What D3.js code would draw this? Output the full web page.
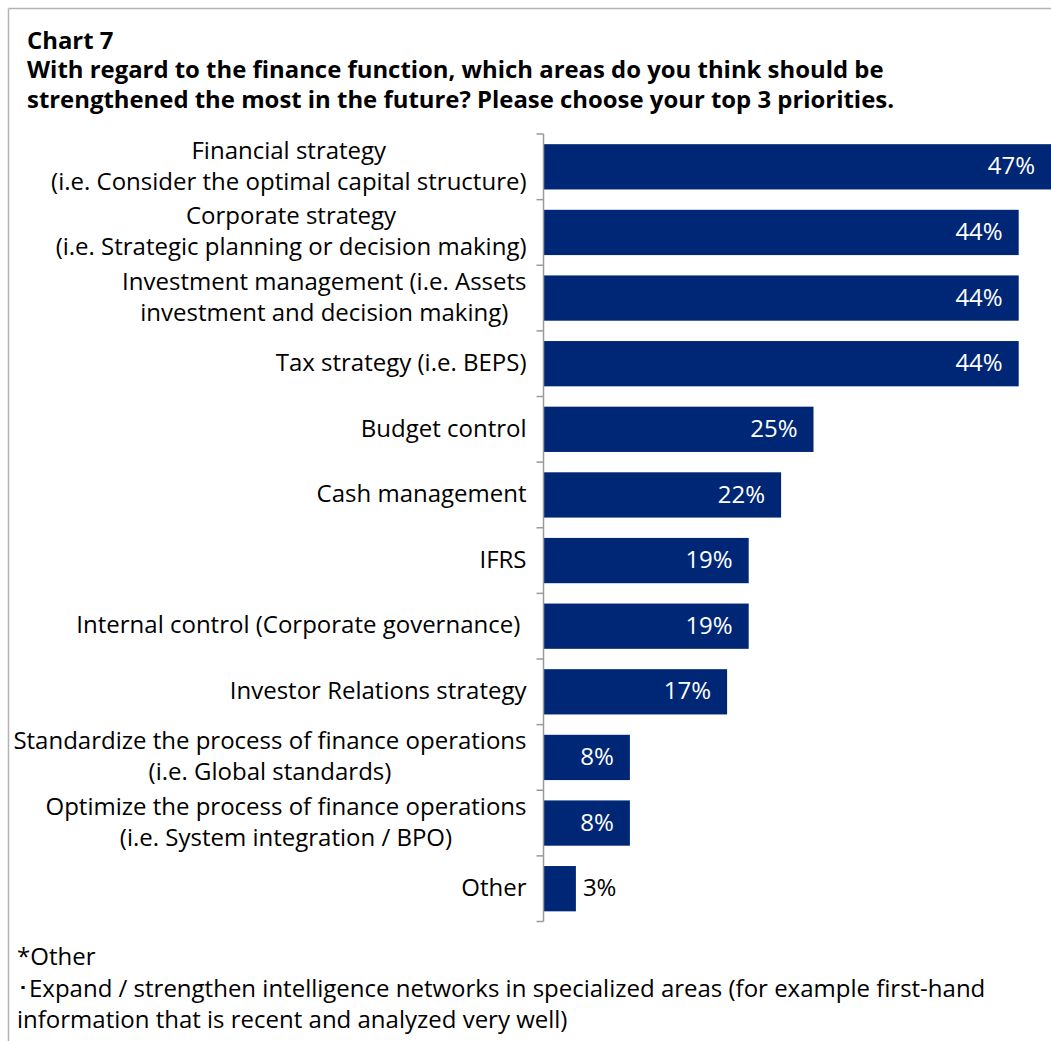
<!DOCTYPE html>
<html>
<head>
<meta charset="utf-8">
<script src="https://cdn.jsdelivr.net/npm/d3@7"></script>
<style>
  html, body { margin: 0; padding: 0; background: #fff; }
  svg { display: block; font-family: "Open Sans", "Noto Sans", sans-serif; }
  text, tspan { white-space: pre; }
</style>
</head>
<body>
<svg id="chart" width="1051" height="1041"></svg>
<script>
// Survey categories (each entry holds the label lines as they wrap)
const categories = [
  ["Financial strategy", "(i.e. Consider the optimal capital structure)"],
  ["Corporate strategy", "(i.e. Strategic planning or decision making)"],
  ["Investment management (i.e. Assets", "investment and decision making)"],
  ["Tax strategy (i.e. BEPS)"],
  ["Budget control"],
  ["Cash management"],
  ["IFRS"],
  ["Internal control (Corporate governance) "],
  ["Investor Relations strategy"],
  ["Standardize the process of finance operations", "(i.e. Global standards)"],
  ["Optimize the process of finance operations", "(i.e. System integration / BPO)"],
  ["Other"]
];
// Share of respondents (%)
const values = [47, 44, 44, 44, 25, 22, 19, 19, 17, 8, 8, 3];

const titleLines = [
  "Chart 7",
  "With regard to the finance function, which areas do you think should be",
  "strengthened the most in the future? Please choose your top 3 priorities."
];
const noteLines = [
  "*Other",
  "\uFF65Expand / strengthen intelligence networks in specialized areas (for example first-hand",
  "information that is recent and analyzed very well)"
];

const svg = d3.select("#chart");
const W = 1051, H = 1041;

// Frame lines along the top and left edges
svg.append("line").attr("x1", 8.5).attr("x2", W).attr("y1", 8.5).attr("y2", 8.5)
  .attr("stroke", "#b3b3b3").attr("stroke-width", 1.5);
svg.append("line").attr("x1", 8.5).attr("x2", 8.5).attr("y1", 8.5).attr("y2", H)
  .attr("stroke", "#b3b3b3").attr("stroke-width", 1.5);

// Title: one text block, one tspan per line
const title = svg.append("text")
  .attr("font-size", 23.9)
  .attr("font-weight", "bold")
  .attr("fill", "#000");
title.selectAll("tspan").data(titleLines).join("tspan")
  .attr("x", 27)
  .attr("y", (d, i) => 48.5 + i * 29.8)
  .text(d => d);

// Scales
const axisX = 543.5;
const x = d3.scaleLinear().domain([0, 47]).range([axisX, axisX + 47 * 10.8]);
const y = d3.scaleBand().domain(d3.range(categories.length)).range([134, 921.5]).paddingInner(0.31).paddingOuter(0.155);

const barColor = "#002776";

// Bars
svg.append("g").selectAll("rect").data(values).join("rect")
  .attr("x", x(0))
  .attr("y", (d, i) => y(i))
  .attr("width", d => x(d) - x(0))
  .attr("height", y.bandwidth())
  .attr("fill", barColor);

// Value labels: inside the bar end, or just outside when the bar is too short
svg.append("g").selectAll("text").data(values).join("text")
  .attr("font-size", 24)
  .attr("y", (d, i) => y(i) + y.bandwidth() / 2)
  .attr("dy", "0.32em")
  .each(function (d) {
    const inside = x(d) - x(0) > 50;
    d3.select(this)
      .attr("x", inside ? x(d) - 16 : x(d) + 7)
      .attr("text-anchor", inside ? "end" : "start")
      .attr("fill", inside ? "#fff" : "#000")
      .text(d + "%");
  });

// Category axis with outward ticks at band boundaries
const axisG = svg.append("g");
axisG.append("line")
  .attr("x1", axisX).attr("x2", axisX)
  .attr("y1", y.range()[0]).attr("y2", y.range()[1])
  .attr("stroke", "#9a9a9a").attr("stroke-width", 1.5);
const step = y.step();
axisG.selectAll("line.tick").data(d3.range(categories.length + 1)).join("line")
  .attr("class", "tick")
  .attr("x1", axisX - 7).attr("x2", axisX)
  .attr("y1", i => y.range()[0] + i * step)
  .attr("y2", i => y.range()[0] + i * step)
  .attr("stroke", "#9a9a9a").attr("stroke-width", 1.5);

// Category labels: multi-line blocks right-aligned to the axis, lines centred within the block
const labelRight = 526.5;
const lineGap = 31;
const labelG = svg.append("g");
categories.forEach((lines, i) => {
  const cy = y(i) + y.bandwidth() / 2;
  const label = labelG.append("text")
    .attr("font-size", 24)
    .attr("fill", "#000")
    .attr("text-anchor", "middle");
  const spans = lines.map((ln, j) => label.append("tspan")
    .attr("y", cy + (j - (lines.length - 1) / 2) * lineGap)
    .attr("dy", "0.3em")
    .text(ln));
  const maxW = d3.max(spans, s => s.node().getComputedTextLength());
  const centre = labelRight - maxW / 2;
  spans.forEach(s => s.attr("x", centre));
});

// Footnote: one text block, one tspan per line
const note = svg.append("text")
  .attr("font-size", 24)
  .attr("fill", "#000");
note.selectAll("tspan").data(noteLines).join("tspan")
  .attr("x", 17)
  .attr("y", (d, i) => 965 + i * 31.5)
  .text(d => d);
</script>
</body>
</html>
